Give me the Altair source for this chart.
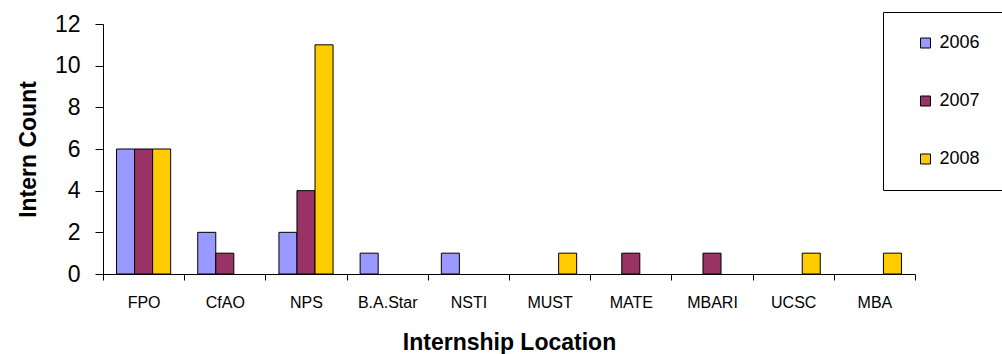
import altair as alt
import pandas as pd

locations = ["FPO", "CfAO", "NPS", "B.A.Star", "NSTI", "MUST", "MATE", "MBARI", "UCSC", "MBA"]
years = ["2006", "2007", "2008"]
counts_2006 = [6, 2, 2, 1, 1, 0, 0, 0, 0, 0]
counts_2007 = [6, 1, 4, 0, 0, 0, 1, 1, 0, 0]
counts_2008 = [6, 0, 11, 0, 0, 1, 0, 0, 1, 1]
colors = ["#9999FF", "#993366", "#FFCC00"]
y_ticks = [0, 2, 4, 6, 8, 10, 12]

rows = []
for yr, vals in zip(years, [counts_2006, counts_2007, counts_2008]):
    for loc, v in zip(locations, vals):
        rows.append({"Location": loc, "Year": yr, "Count": v})
df = pd.DataFrame(rows)

font = "Liberation Sans"

chart = alt.Chart(df).transform_filter(
    alt.datum.Count > 0
).mark_bar(stroke="black", strokeWidth=1).encode(
    x=alt.X(
        "Location:N",
        sort=locations,
        scale=alt.Scale(domain=locations, paddingInner=0, paddingOuter=0),
        axis=alt.Axis(
            title="Internship Location",
            labelAngle=0,
            tickBand="extent",
            tickSize=6,
            tickColor="black",
            domainColor="black",
            labelFont=font,
            labelFontSize=16,
            labelColor="black",
            labelBaseline="alphabetic",
            labelPadding=27,
            titleFont=font,
            titleFontSize=23,
            titleFontWeight="bold",
            titleColor="black",
            titleX=406,
            titleY=75,
            titleBaseline="alphabetic",
        ),
    ),
    xOffset=alt.XOffset(
        "Year:N",
        scale=alt.Scale(domain=years, paddingInner=0, paddingOuter=0.75),
    ),
    y=alt.Y(
        "Count:Q",
        scale=alt.Scale(domain=[0, 12], nice=False),
        axis=alt.Axis(
            title="Intern Count",
            values=y_ticks,
            grid=False,
            tickSize=8,
            tickColor="black",
            domainColor="black",
            labelFont=font,
            labelFontSize=23,
            labelColor="black",
            labelPadding=15,
            titleFont=font,
            titleFontSize=23,
            titleFontWeight="bold",
            titleColor="black",
            titleX=-75,
            titleY=125,
            titleBaseline="middle",
        ),
    ),
    color=alt.Color(
        "Year:N",
        scale=alt.Scale(domain=years, range=colors),
        legend=alt.Legend(
            title=None,
            orient="none",
            legendX=780,
            legendY=-12,
            strokeColor="black",
            fillColor="white",
            padding=22,
            symbolType="square",
            symbolSize=100,
            symbolStrokeColor="black",
            symbolStrokeWidth=1,
            symbolOffset=11.5,
            labelOffset=5,
            labelFont=font,
            labelFontSize=18,
            labelColor="black",
            rowPadding=40,
        ),
    ),
).properties(
    width=812,
    height=250,
    autosize="none",
    padding={"left": 103, "top": 24, "right": 87, "bottom": 80},
    background="white",
).configure_view(strokeWidth=0)

chart.save("out.html", embed_options={"renderer": "svg", "actions": False})
